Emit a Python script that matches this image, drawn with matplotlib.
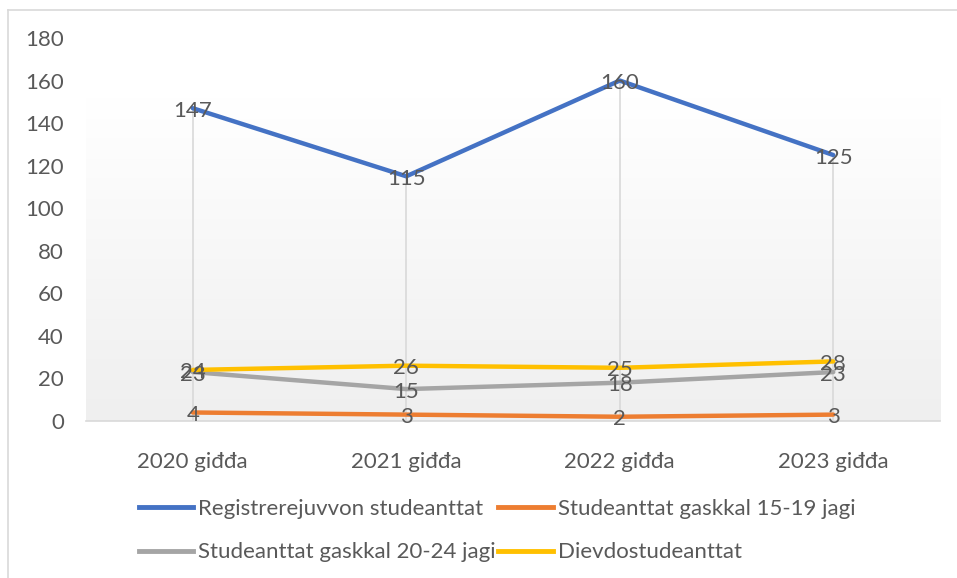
import matplotlib
matplotlib.use("Agg")
import matplotlib.pyplot as plt
import numpy as np
from matplotlib.lines import Line2D

categories = ["2020 giđđa", "2021 giđđa", "2022 giđđa", "2023 giđđa"]
registrerejuvvon = [147, 115, 160, 125]
gaskkal_15_19 = [4, 3, 2, 3]
gaskkal_20_24 = [23, 15, 18, 23]
dievdo = [24, 26, 25, 28]
series_names = ["Registrerejuvvon studeanttat", "Studeanttat gaskkal 15-19 jagi",
                "Studeanttat gaskkal 20-24 jagi", "Dievdostudeanttat"]
y_ticks = [0, 20, 40, 60, 80, 100, 120, 140, 160, 180]

colors = ["#4472C4", "#ED7D31", "#A5A5A5", "#FFC000"]
txt = "#595959"
plt.rcParams['font.family'] = ['Lato', 'DejaVu Sans']
FS = 16

fig = plt.figure(figsize=(9.57, 5.78), dpi=100)
ax = fig.add_axes([86/957, 1-421/578, (940-86)/957, (421-38)/578])

x = np.arange(len(categories)) + 0.5
ax.set_xlim(0, len(categories))
ax.set_ylim(0, 180)

# gradient background (white at top, light gray at bottom)
grad = np.concatenate([np.zeros(40), np.linspace(0.0, 1.0, 216)]).reshape(-1, 1)
cmap = matplotlib.colors.LinearSegmentedColormap.from_list("g", ["#FFFFFF", "#EFEFEF"])
ax.imshow(grad, extent=[0, len(categories), 0, 180], aspect='auto', cmap=cmap,
          zorder=0, vmin=0, vmax=1, interpolation='bilinear')

all_series = [registrerejuvvon, gaskkal_15_19, gaskkal_20_24, dievdo]
tops = np.max(np.array(all_series), axis=0)
ax.vlines(x, 0, tops, colors="#D9D9D9", linewidth=1.2, zorder=1)

for s, c in zip(all_series, colors):
    ax.plot(x, s, color=c, linewidth=3.2, solid_capstyle='round', zorder=3)
for s in all_series:
    for xi, v in zip(x, s):
        ax.text(xi, v - 1.2, str(v), ha='center', va='center', fontsize=FS, color=txt, zorder=4)

ax.set_xticks(x)
ax.set_xticklabels(categories, fontsize=FS, color=txt)
ax.set_yticks(y_ticks)
ax.set_yticklabels([str(t) for t in y_ticks], fontsize=FS, color=txt)
ax.tick_params(axis='x', length=0, pad=22)
ax.tick_params(axis='y', length=0, pad=16)
for sp in ['top', 'right', 'left']:
    ax.spines[sp].set_visible(False)
ax.spines['bottom'].set_color("#D9D9D9")
ax.spines['bottom'].set_linewidth(1.2)

handles = [Line2D([0], [0], color=c, linewidth=3.5) for c in colors]
order = [0, 2, 1, 3]
leg = fig.legend([handles[i] for i in order], [series_names[i] for i in order],
                 ncol=2, loc='upper left', bbox_to_anchor=(119/957, 1-479/578),
                 frameon=False, fontsize=FS, handlelength=2.45, handletextpad=0.22,
                 columnspacing=0.1, labelspacing=1.05, labelcolor=txt)

# outer chart border
fig.add_artist(Line2D([8/957, 8/957], [0, 1-10/578], transform=fig.transFigure,
                      color="#D9D9D9", linewidth=1.2))
fig.add_artist(Line2D([8/957, 1], [1-10/578, 1-10/578], transform=fig.transFigure,
                      color="#D9D9D9", linewidth=1.2))

fig.savefig("out.png", dpi=100)
